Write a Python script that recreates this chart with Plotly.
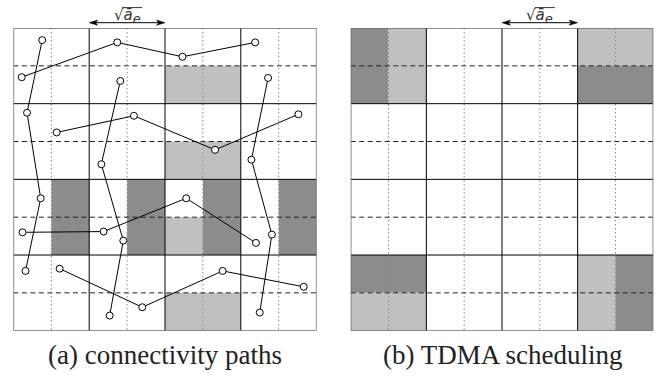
import plotly.graph_objects as go

# ---------------- data (cell units, 4x4 grid, y measured downward) ----------------
path_names = ["row0", "row1", "row2", "row3", "col0", "col1", "col3"]
path_x = [
    [0.11, 1.37, 2.23, 3.19],
    [0.57, 1.59, 2.66, 3.76],
    [0.12, 1.19, 2.28, 3.20],
    [0.61, 1.70, 2.76, 3.83],
    [0.38, 0.18, 0.36, 0.16],
    [1.41, 1.16, 1.45, 1.27],
    [3.36, 3.14, 3.41, 3.25],
]
path_y = [
    [0.65, 0.19, 0.38, 0.19],
    [1.38, 1.16, 1.61, 1.14],
    [2.70, 2.69, 2.25, 2.84],
    [3.18, 3.69, 3.21, 3.42],
    [0.16, 1.12, 2.25, 3.21],
    [0.70, 1.80, 2.81, 3.80],
    [0.66, 1.74, 2.73, 3.76],
]

# shaded sub-cells: x0, x1, y0, y1, tone
shade_a = [
    (2, 3, 0.5, 1, "light"), (2, 3, 1.5, 2, "light"),
    (0.5, 1, 2, 3, "dark"), (1.5, 2, 2, 3, "dark"),
    (2, 2.5, 2.5, 3, "light"), (2.5, 3, 2, 3, "dark"),
    (3.5, 4, 2, 3, "dark"), (2, 3, 3.5, 4, "light"),
]
shade_b = [
    (0, 0.5, 0, 1, "dark"), (0.5, 1, 0, 1, "light"),
    (3, 4, 0, 0.5, "light"), (3, 4, 0.5, 1, "dark"),
    (0, 1, 3, 3.5, "dark"), (0, 1, 3.5, 4, "light"),
    (3, 3.5, 3, 4, "light"), (3.5, 4, 3, 4, "dark"),
]
captions = ["(a) connectivity paths", "(b) TDMA scheduling"]
arrow_span = [(1, 2), (2, 3)]   # cell columns spanned by the sqrt(a_e) arrow

tones = {"light": "#c0c0c0", "dark": "#8c8c8c"}

W, H = 670, 377


def px(x):
    return x / W


def py(y):
    return 1 - y / H


panels = [(13.4, 316.6), (350.7, 653.3)]
top, bot = 28.0, 330.7
serif = "Liberation Serif, Times New Roman, DejaVu Serif, serif"

fig = go.Figure()

for i in range(len(path_x)):
    fig.add_trace(go.Scatter(
        x=path_x[i], y=path_y[i], mode="lines+markers", name=path_names[i],
        line=dict(color="black", width=1),
        marker=dict(symbol="circle", size=7, color="white",
                    line=dict(color="black", width=1)),
        xaxis="x", yaxis="y", showlegend=False, hoverinfo="skip",
    ))
fig.add_trace(go.Scatter(x=[0], y=[0], mode="markers", marker=dict(opacity=0),
                         xaxis="x2", yaxis="y2", showlegend=False, hoverinfo="skip"))

shapes = []
annotations = []
for idx, (ax, shades) in enumerate((("", shade_a), ("2", shade_b))):
    xr, yr = "x" + ax, "y" + ax
    for (x0, x1, y0, y1, t) in shades:
        shapes.append(dict(type="rect", xref=xr, yref=yr, x0=x0, x1=x1, y0=y0, y1=y1,
                           fillcolor=tones[t], line=dict(width=0), layer="below"))
    for k in range(4):
        m = k + 0.5
        shapes.append(dict(type="line", xref=xr, yref=yr, x0=m, x1=m, y0=0, y1=4,
                           line=dict(color="#8a8a8a", width=1, dash="1.5px,2.5px"), layer="below"))
        shapes.append(dict(type="line", xref=xr, yref=yr, x0=0, x1=4, y0=m, y1=m,
                           line=dict(color="#222222", width=1, dash="5px,3.5px"), layer="below"))
    for k in range(1, 4):
        shapes.append(dict(type="line", xref=xr, yref=yr, x0=k, x1=k, y0=0, y1=4,
                           line=dict(color="black", width=1), layer="below"))
        shapes.append(dict(type="line", xref=xr, yref=yr, x0=0, x1=4, y0=k, y1=k,
                           line=dict(color="black", width=1), layer="below"))
    shapes.append(dict(type="rect", xref=xr, yref=yr, x0=0, x1=4, y0=0, y1=4,
                       line=dict(color="#6a6a6a", width=1.5), layer="below"))

    # sqrt(a_e) dimension arrow (decoration drawn in paper space)
    left, right = panels[idx]
    cellw = (right - left) / 4
    a0, a1 = arrow_span[idx]
    xa, xb = left + a0 * cellw, left + a1 * cellw
    ya = 22.7
    shapes.append(dict(type="line", xref="paper", yref="paper",
                       x0=px(xa + 4), x1=px(xb - 4), y0=py(ya), y1=py(ya),
                       line=dict(color="black", width=1)))
    for tip, back in ((xa, xa + 8.5), (xb, xb - 8.5)):
        shapes.append(dict(type="path", xref="paper", yref="paper",
                           path=f"M {px(tip)} {py(ya)} L {px(back)} {py(ya - 2.6)} "
                                f"L {px(back - (back - tip) * 0.25)} {py(ya)} "
                                f"L {px(back)} {py(ya + 2.6)} Z",
                           fillcolor="black", line=dict(color="black", width=0.5)))
    cx = left + (a0 + a1) / 2 * cellw
    annotations.append(dict(x=px(cx), xref="paper", y=py(16), yref="paper",
                            yanchor="middle", xanchor="center",
                            text="√<i>ā</i><sub><span style='font-size:13px'><i>e</i></span></sub>",
                            showarrow=False,
                            font=dict(family="DejaVu Sans", size=15, color="#333")))
    # vinculum of the square root
    shapes.append(dict(type="line", xref="paper", yref="paper",
                       x0=px(cx - 5), x1=px(cx + 15), y0=py(7.6), y1=py(7.6),
                       line=dict(color="#333", width=1)))
    annotations.append(dict(x=2, xref=xr, y=py(355), yref="paper", yanchor="middle",
                            text=captions[idx], showarrow=False,
                            font=dict(family=serif, size=27, color="#222")))

fig.update_layout(
    width=W, height=H, margin=dict(l=0, r=0, t=0, b=0),
    paper_bgcolor="white", plot_bgcolor="white",
    xaxis=dict(domain=[px(panels[0][0]), px(panels[0][1])], range=[0, 4], visible=False),
    yaxis=dict(domain=[py(bot), py(top)], range=[4, 0], visible=False),
    xaxis2=dict(domain=[px(panels[1][0]), px(panels[1][1])], range=[0, 4], visible=False),
    yaxis2=dict(domain=[py(bot), py(top)], range=[4, 0], visible=False),
    shapes=shapes, annotations=annotations,
)

fig.write_html("out.html", config={"displayModeBar": False},
               post_script="document.body.style.margin='0px';")
